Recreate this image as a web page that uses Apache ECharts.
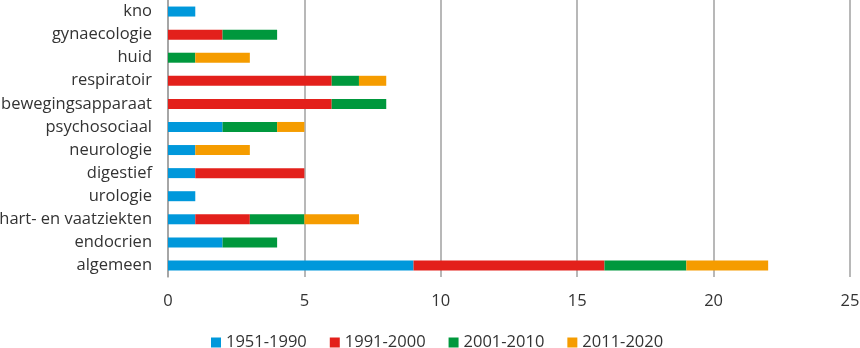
<!DOCTYPE html>
<html>
<head>
<meta charset="utf-8">
<script src="https://cdn.jsdelivr.net/npm/echarts@6/dist/echarts.min.js"></script>
<style>
  html, body { margin: 0; padding: 0; background: #fff; }
  #chart { width: 860px; height: 348px; }
</style>
</head>
<body>
<div id="chart"></div>
<script>
// Categories, top to bottom
const categories = ['kno', 'gynaecologie', 'huid', 'respiratoir', 'bewegingsapparaat', 'psychosociaal',
  'neurologie', 'digestief', 'urologie', 'hart- en vaatziekten', 'endocrien', 'algemeen'];

// Counts per period, in the same order as categories
const p1951_1990 = [1, 0, 0, 0, 0, 2, 1, 1, 1, 1, 2, 9];
const p1991_2000 = [0, 2, 0, 6, 6, 0, 0, 4, 0, 2, 0, 7];
const p2001_2010 = [0, 2, 1, 1, 2, 2, 0, 0, 0, 2, 2, 3];
const p2011_2020 = [0, 0, 2, 1, 0, 1, 2, 0, 0, 2, 0, 3];

const periodNames = ['1951-1990', '1991-2000', '2001-2010', '2011-2020'];
const periodValues = [p1951_1990, p1991_2000, p2001_2010, p2011_2020];
const periodColors = ['#0098db', '#e3201b', '#00983d', '#f59c00'];

const font = 'Open Sans';
const textColor = '#333333';

const chart = echarts.init(document.getElementById('chart'));
chart.setOption({
  animation: false,
  textStyle: { fontFamily: font },
  grid: { left: 168, right: 10, top: 0, bottom: 71, containLabel: false, outerBoundsMode: 'none' },
  legend: {
    data: periodNames,
    left: 206,
    top: 329,
    itemWidth: 10,
    itemHeight: 10,
    itemGap: 23,
    icon: 'rect',
    textStyle: { fontFamily: font, fontSize: 16.5, color: textColor }
  },
  xAxis: {
    type: 'value',
    min: 0,
    max: 25,
    interval: 5,
    axisLine: { show: false },
    axisTick: { show: false },
    axisLabel: { fontFamily: font, fontSize: 16.5, color: textColor, margin: 16 },
    splitLine: { show: true, lineStyle: { color: '#a0a0a0', width: 1.5 } }
  },
  yAxis: {
    type: 'category',
    data: categories,
    inverse: true,
    axisLine: { show: true, lineStyle: { color: '#a0a0a0', width: 1.5 } },
    axisTick: { show: false },
    axisLabel: { fontFamily: font, fontSize: 16.5, color: textColor, margin: 16 }
  },
  series: periodNames.map((name, i) => ({
    name: name,
    type: 'bar',
    stack: 'total',
    data: periodValues[i],
    barWidth: 10,
    itemStyle: { color: periodColors[i] }
  }))
});
</script>
</body>
</html>
